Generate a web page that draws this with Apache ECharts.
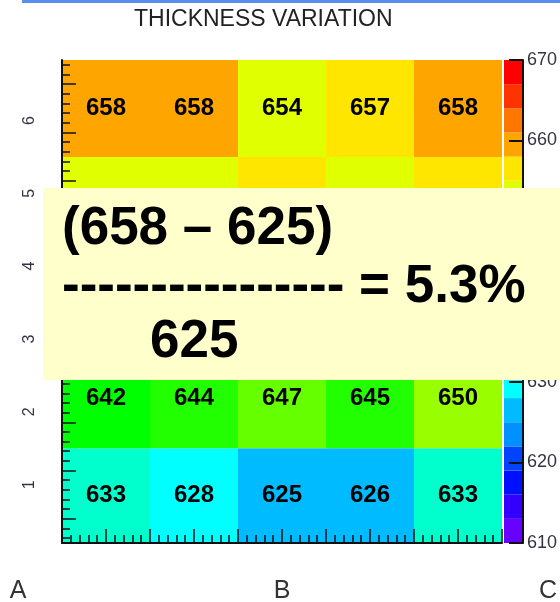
<!DOCTYPE html>
<html>
<head>
<meta charset="utf-8">
<script src="https://cdn.jsdelivr.net/npm/echarts@6/dist/echarts.min.js"></script>
<style>html,body{margin:0;padding:0;background:#fff}#chart{width:560px;height:602px}</style>
</head>
<body>
<div id="chart"></div>
<script>
// ---------------- data ----------------
const columns = [1, 2, 3, 4, 5];
const rows = [1, 2, 3, 4, 5, 6];
const row1 = [633, 628, 625, 626, 633];
const row2 = [642, 644, 647, 645, 650];
const row3 = [646, 648, 650, 648, 652]; // covered by the note box (estimated)
const row4 = [650, 651, 653, 652, 654]; // covered by the note box (estimated)
const row5 = [653, 654, 656, 653, 656]; // values covered, colours visible
const row6 = [658, 658, 654, 657, 658];
const rowValues = [row1, row2, row3, row4, row5, row6];
const yTickLabels = ['1', '2', '3', '4', '5', '6'];
const yTickValues = [1, 2, 3, 4, 5, 6];
const paletteEdges = [610, 613, 616, 619, 622, 625, 628, 631, 634, 637, 640,
                      643, 646, 649, 652, 655, 658, 661, 664, 667, 670];
const paletteColors = ['#6600ff', '#3300ff', '#0010ff', '#0044ff', '#0090ff',
                       '#00bbff', '#00ffff', '#00ffcc', '#00ff99', '#00ff66',
                       '#00ff00', '#22ff00', '#66ff00', '#99ff00', '#e0ff00',
                       '#ffe600', '#ffa500', '#ff7700', '#ff3300', '#ff0000'];
const titleText = 'THICKNESS VARIATION';
const bottomLabels = ['A', 'B', 'C'];
const noteLines = ['(658 \u2013 625)', '---------------- = 5.3%', '625'];

// ---------------- styling ----------------
const FONT = '"Liberation Sans", Arial, Helvetica, sans-serif';
const INK = '#111';
const hiddenLabelRows = [3, 4, 5];
const labelShift = { 2: -13 };

function colorFor(v) {
  for (let i = 0; i < paletteColors.length; i++) {
    if (v >= paletteEdges[i] && v < paletteEdges[i + 1]) return paletteColors[i];
  }
  return v < paletteEdges[0] ? paletteColors[0] : paletteColors[paletteColors.length - 1];
}

const cellData = [];
rows.forEach((r, ri) => columns.forEach((c, ci) => cellData.push([c, r, rowValues[ri][ci]])));
const bandData = paletteColors.map((col, i) => [0, paletteEdges[i], paletteEdges[i + 1]]);

// frame ticks on the left edge: 50 small divisions, every fifth long
const frameMinor = [], frameMajor = [];
for (let k = 0; k < 50; k++) { frameMinor.push(k + 0.5); if (k % 5 === 2) frameMajor.push(k + 0.5); }

const tickLine = { color: INK, width: 1.5 };

const chart = echarts.init(document.getElementById('chart'), null, { renderer: 'canvas' });
const option = {
  animation: false,
  backgroundColor: '#ffffff',
  title: {
    text: titleText, left: 134, top: 8, padding: 0,
    textStyle: { fontSize: 23, fontWeight: 'normal', color: '#222', fontFamily: FONT }
  },
  grid: [
    { left: 62, top: 60, width: 440, height: 483 },
    { left: 504, top: 60, width: 25, height: 483 }
  ],
  xAxis: [
    {
      gridIndex: 0, type: 'value', min: 0.5, max: 5.5, interval: 0.5, position: 'bottom', z: 10,
      axisLine: { show: true, onZero: false, lineStyle: { color: INK, width: 2 } },
      axisTick: { show: true, inside: true, length: 14, lineStyle: tickLine },
      minorTick: { show: true, splitNumber: 5, length: 8, lineStyle: tickLine },
      axisLabel: { show: false }, splitLine: { show: false }, minorSplitLine: { show: false }
    },
    { gridIndex: 1, type: 'value', min: 0, max: 1, show: false }
  ],
  yAxis: [
    {
      gridIndex: 0, type: 'value', min: 0.2, max: 6.83, position: 'left', offset: 0, z: 10,
      axisLine: { show: true, onZero: false, lineStyle: { color: INK, width: 2 } },
      axisTick: { show: false },
      axisLabel: {
        show: true, customValues: yTickValues,
        formatter: v => yTickLabels[yTickValues.indexOf(Math.round(v))],
        rotate: 90, margin: 24, fontSize: 16, color: '#333344', fontFamily: FONT
      },
      splitLine: { show: false }
    },
    {
      gridIndex: 0, type: 'value', min: 0, max: 50, position: 'left', offset: 0, z: 10,
      axisLine: { show: false, onZero: false },
      axisTick: { show: true, inside: true, length: 8, customValues: frameMinor, lineStyle: tickLine },
      axisLabel: { show: false }, splitLine: { show: false }
    },
    {
      gridIndex: 0, type: 'value', min: 0, max: 50, position: 'left', offset: 0, z: 10,
      axisLine: { show: false, onZero: false },
      axisTick: { show: true, inside: true, length: 14, customValues: frameMajor, lineStyle: tickLine },
      axisLabel: { show: false }, splitLine: { show: false }
    },
    {
      gridIndex: 1, type: 'value', min: 610, max: 670, interval: 10, position: 'right', offset: 0, z: 10,
      axisLine: { show: true, onZero: false, lineStyle: { color: INK, width: 2 } },
      axisTick: { show: true, inside: true, length: 14, lineStyle: { color: INK, width: 2 } },
      axisLabel: { show: true, margin: 4, fontSize: 18, color: '#333344', fontFamily: FONT },
      splitLine: { show: false }
    }
  ],
  series: [
    {
      type: 'custom', xAxisIndex: 0, yAxisIndex: 0, data: cellData, z: 2,
      encode: { x: 0, y: 1 },
      renderItem: function (params, api) {
        const c = api.value(0), r = api.value(1), v = api.value(2);
        const cs = params.coordSys;
        const lo = api.coord([c - 0.5, r - 0.5]);
        const hi = api.coord([c + 0.5, r + 0.5]);
        const x0 = lo[0], x1 = hi[0];
        const yb = r === rows[0] ? cs.y + cs.height : lo[1];
        const yt = r === rows[rows.length - 1] ? cs.y : hi[1];
        const children = [{
          type: 'rect', shape: { x: x0, y: yt, width: x1 - x0, height: yb - yt },
          style: { fill: colorFor(v) }
        }];
        if (hiddenLabelRows.indexOf(r) < 0) {
          children.push({
            type: 'text',
            style: {
              text: String(v), x: (x0 + x1) / 2, y: (yt + yb) / 2 + (labelShift[r] || 0),
              align: 'center', verticalAlign: 'middle',
              fontSize: 24, fontWeight: 'bold', fontFamily: FONT, fill: '#000'
            }
          });
        }
        return { type: 'group', children: children };
      }
    },
    {
      type: 'custom', xAxisIndex: 1, yAxisIndex: 3, data: bandData, z: 2,
      encode: { x: 0, y: [1, 2] },
      renderItem: function (params, api) {
        const a = api.coord([0, api.value(1)]);
        const b = api.coord([1, api.value(2)]);
        return {
          type: 'rect', shape: { x: a[0], y: b[1], width: b[0] - a[0], height: a[1] - b[1] },
          style: { fill: paletteColors[params.dataIndex] }
        };
      }
    }
  ],
  graphic: [
    { type: 'rect', x: 22, y: 0, z: 100, shape: { width: 538, height: 3 }, style: { fill: '#5b8def' } },
    { type: 'rect', x: 43, y: 188, z: 100, shape: { width: 517, height: 192 }, style: { fill: '#ffffcc' } },
    { type: 'text', x: 62, y: 229, z: 101, style: { text: noteLines[0], font: 'bold 53px ' + FONT, fill: '#000', verticalAlign: 'middle' } },
    { type: 'text', x: 62, y: 287, z: 101, style: { text: noteLines[1], font: 'bold 53px ' + FONT, fill: '#000', verticalAlign: 'middle' } },
    { type: 'text', x: 150, y: 342, z: 101, style: { text: noteLines[2], font: 'bold 53px ' + FONT, fill: '#000', verticalAlign: 'middle' } },
    { type: 'text', x: 18, y: 591, z: 101, style: { text: bottomLabels[0], font: '25px ' + FONT, fill: '#333', align: 'center', verticalAlign: 'middle' } },
    { type: 'text', x: 282, y: 591, z: 101, style: { text: bottomLabels[1], font: '25px ' + FONT, fill: '#333', align: 'center', verticalAlign: 'middle' } },
    { type: 'text', x: 548, y: 591, z: 101, style: { text: bottomLabels[2], font: '25px ' + FONT, fill: '#333', align: 'center', verticalAlign: 'middle' } }
  ]
};
chart.setOption(option);
</script>
</body>
</html>
